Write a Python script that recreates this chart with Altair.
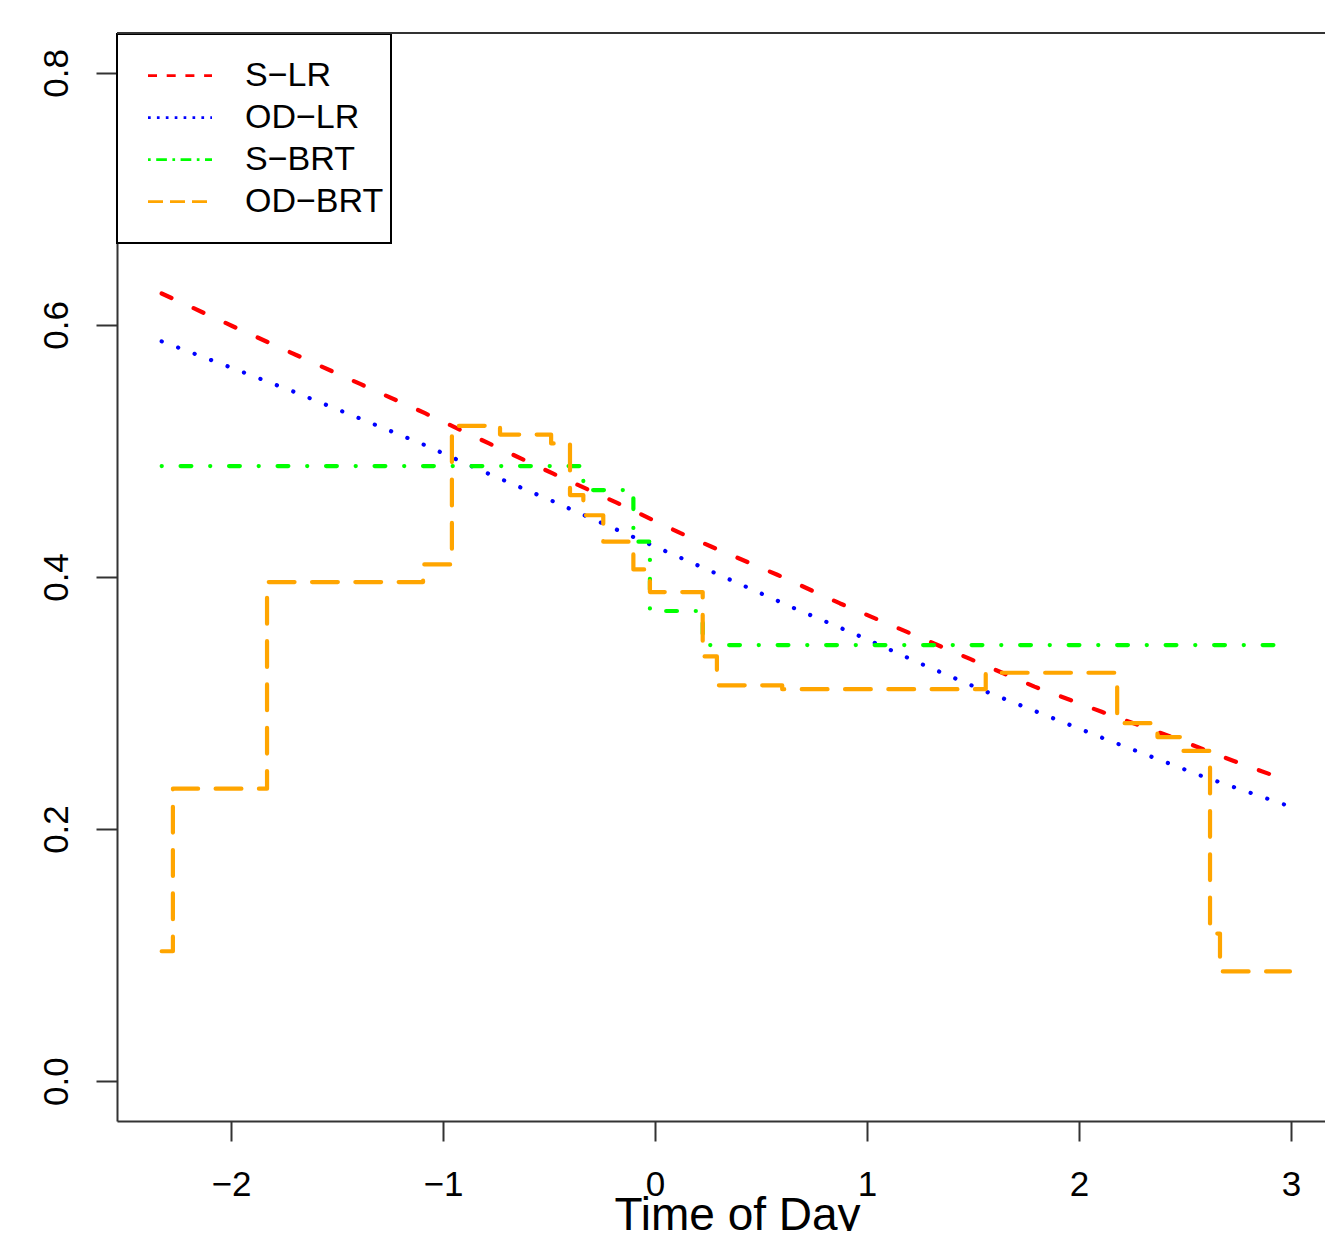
import altair as alt
import pandas as pd

# ---- data ----
series_names = ["S−LR", "OD−LR", "S−BRT", "OD−BRT"]
series_colors = ["#FF0000", "#0000FF", "#00FF00", "#FFA500"]

slr_x = [-2.327, -1.992, -1.69, -1.388, -1.085, -0.783, -0.48, -0.181, 0.118, 0.267,
         0.574, 0.873, 1.18, 1.486, 1.79, 2.107, 2.421, 2.73, 2.99]
slr_y = [0.625, 0.599, 0.576, 0.553, 0.530, 0.506, 0.482, 0.459, 0.435, 0.424,
         0.402, 0.379, 0.357, 0.335, 0.313, 0.293, 0.274, 0.254, 0.238]

odlr_x = [-2.327, -2.013, -1.703, -1.395, -1.09, -0.786, -0.48, -0.173, 0.205, 0.66,
          0.967, 1.27, 1.577, 2.115, 2.58, 2.976]
odlr_y = [0.587, 0.567, 0.547, 0.526, 0.505, 0.482, 0.460, 0.437, 0.409, 0.375,
          0.353, 0.330, 0.308, 0.272, 0.242, 0.219]

sbrt_x = [-2.327, -0.338, -0.102, -0.024, 0.225, 2.99]
sbrt_y = [0.488, 0.469, 0.428, 0.373, 0.346, 0.346]

odbrt_x = [-2.327, -2.274, -1.83, -1.094, -0.958, -0.731, -0.49, -0.401, -0.338, -0.244,
           -0.102, -0.024, 0.225, 0.292, 0.60, 1.56, 2.18, 2.37, 2.476, 2.618, 2.665, 2.995]
odbrt_y = [0.103, 0.232, 0.396, 0.410, 0.520, 0.513, 0.506, 0.465, 0.449, 0.428,
           0.406, 0.388, 0.337, 0.314, 0.311, 0.324, 0.284, 0.273, 0.262, 0.117, 0.087, 0.087]

x_ticks = [-2, -1, 0, 1, 2, 3]
y_ticks = [0.0, 0.2, 0.4, 0.6, 0.8]


def frame(name, xs, ys):
    return pd.DataFrame({"x": xs, "y": ys, "series": name, "i": list(range(len(xs)))})


lr_df = pd.concat([frame("S−LR", slr_x, slr_y), frame("OD−LR", odlr_x, odlr_y)])
brt_df = pd.concat([frame("S−BRT", sbrt_x, sbrt_y), frame("OD−BRT", odbrt_x, odbrt_y)])
legend_df = pd.DataFrame({"x": [], "y": [], "series": [], "i": []})

W, H = 1208, 1088
FONT = "Liberation Sans"
AX = "#333333"

x_scale = alt.Scale(domain=[-2.5377, 3.1603], nice=False, zero=False)
y_scale = alt.Scale(domain=[-0.0317, 0.8317], nice=False, zero=False)

x_axis = alt.Axis(values=x_ticks, format="d", labelExpr="replace(datum.label, '-', '−')",
                  tickSize=20, tickWidth=2, tickColor=AX, domainColor=AX, domainWidth=2,
                  labelFontSize=35, labelColor="black", labelFont=FONT, labelPadding=26,
                  labelFlush=False, labelOverlap=False, grid=False,
                  title="Time of Day", titleFontSize=46, titleFontWeight="normal",
                  titleColor="black", titleFont=FONT, titleX=620, titleY=108,
                  titleBaseline="alphabetic", titleAlign="center")
y_axis = alt.Axis(values=y_ticks, format=".1f",
                  tickSize=21, tickWidth=2, tickColor=AX, domainColor=AX, domainWidth=2,
                  labelFontSize=35, labelColor="black", labelFont=FONT, labelPadding=22,
                  labelAngle=270, labelAlign="center", labelBaseline="bottom",
                  labelFlush=False, labelOverlap=False, grid=False, title=None)

dash_main = [[10.8, 24.4], [0.1, 17.5], [0.1, 18.8, 10.8, 18.8], [25.8, 17.5]]
dash_legend = [[9, 9.7], [2.7, 6.2], [2.7, 5.5, 10.7, 5.5], [15, 7]]

legend = alt.Legend(orient="none", legendX=0, legendY=21.7, title=None,
                    symbolType="stroke", symbolSize=4096, symbolStrokeWidth=2.7,
                    labelFontSize=34, labelFont=FONT, labelColor="black",
                    labelOffset=31.5, symbolOffset=29.5, padding=0,
                    clipHeight=42, rowPadding=0, labelLimit=400)

xx = alt.X("x:Q", scale=x_scale, axis=x_axis)
yy = alt.Y("y:Q", scale=y_scale, axis=y_axis)

main_color = alt.Color("series:N", scale=alt.Scale(domain=series_names, range=series_colors),
                       legend=None)
main_dash = alt.StrokeDash("series:N", scale=alt.Scale(domain=series_names, range=dash_main),
                           legend=None)

lr = alt.Chart(lr_df).mark_line(strokeWidth=4.2, strokeCap="round", strokeJoin="round").encode(
    x=xx, y=yy, color=main_color, strokeDash=main_dash, order="i:Q", detail="series:N")
brt = alt.Chart(brt_df).mark_line(strokeWidth=4.2, strokeCap="round", strokeJoin="round",
                                  interpolate="step-after").encode(
    x=xx, y=yy, color=main_color, strokeDash=main_dash, order="i:Q", detail="series:N")

# legend frame (R-style box in the top-left corner of the plot region)
legend_box = alt.Chart(pd.DataFrame({"k": [0]})).mark_rect(
    fill="white", stroke="black", strokeWidth=2).encode(
    x=alt.value(0), x2=alt.value(274), y=alt.value(1), y2=alt.value(210))

leg = alt.Chart(legend_df).mark_line(strokeWidth=2.7).encode(
    x=xx, y=yy,
    color=alt.Color("series:N", scale=alt.Scale(domain=series_names, range=series_colors),
                    legend=legend),
    strokeDash=alt.StrokeDash("series:N", scale=alt.Scale(domain=series_names, range=dash_legend),
                              legend=legend))

top_rule = alt.Chart(pd.DataFrame({"k": [0]})).mark_rule(color=AX, strokeWidth=2).encode(
    y=alt.value(0), x=alt.value(0), x2=alt.value(W + 20))

chart = alt.layer(lr, brt, legend_box, top_rule, leg).resolve_scale(
    color="independent", strokeDash="independent"
).properties(
    width=W, height=H,
    autosize=alt.AutoSizeParams(type="none"),
    padding={"left": 109, "top": 25, "right": 0, "bottom": 110},
    background="white",
).configure_view(strokeWidth=0)

chart.save("out.html", embed_options={"renderer": "svg", "actions": False})
